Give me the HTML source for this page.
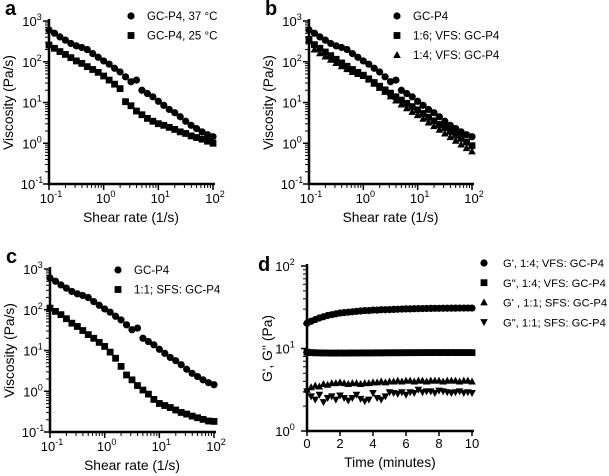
<!DOCTYPE html>
<html><head><meta charset="utf-8"><style>
body{margin:0;background:#fff;}
svg{display:block;font-family:"Liberation Sans",Arial,sans-serif;}
</style></head><body>
<svg id="fig" width="609" height="476" viewBox="0 0 609 476"></svg>
<script>
// Panel a data (log10 viscosity), x = 10^(-1 + i/10)
const aCircle37 = [2.78,2.70,2.61,2.53,2.45,2.39,2.35,2.30,2.20,2.11,2.02,1.94,1.84,1.75,1.63,1.51,1.55,1.30,1.22,1.14,1.03,0.93,0.83,0.75,0.65,0.54,0.44,0.36,0.28,0.21,0.16];
const aSquare25 = [2.41,2.33,2.25,2.18,2.10,2.02,1.96,1.88,1.81,1.74,1.65,1.55,1.45,1.34,1.02,0.92,0.79,0.70,0.61,0.54,0.48,0.44,0.39,0.34,0.28,0.24,0.18,0.14,0.10,0.05,0.0];
// Panel b
const bSquare16 = [2.55,2.42,2.33,2.24,2.15,2.06,1.97,1.89,1.81,1.74,1.67,1.58,1.49,1.40,1.31,1.23,1.14,1.06,0.98,0.90,0.82,0.73,0.64,0.55,0.46,0.38,0.29,0.20,0.12,0.03,-0.06];
const bTri14 = [2.50,2.30,2.21,2.13,2.05,1.97,1.89,1.82,1.75,1.70,1.65,1.56,1.46,1.36,1.26,1.15,1.05,0.95,0.86,0.77,0.69,0.60,0.51,0.42,0.33,0.24,0.15,0.06,-0.03,-0.12,-0.20];
// Panel c
const cSquare11 = [2.04,1.96,1.88,1.78,1.67,1.59,1.49,1.39,1.30,1.20,1.10,0.96,0.81,0.61,0.40,0.28,0.14,0.03,-0.07,-0.20,-0.30,-0.35,-0.40,-0.46,-0.52,-0.56,-0.61,-0.65,-0.69,-0.73,-0.74];
// Panel d (log10 Pa), t = i*0.25 min
const dGp14 = [1.305,1.33,1.35,1.37,1.385,1.40,1.41,1.42,1.43,1.435,1.44,1.445,1.45,1.455,1.46,1.46,1.465,1.465,1.47,1.47,1.472,1.474,1.476,1.478,1.48,1.48,1.482,1.483,1.484,1.485,1.486,1.487,1.487,1.488,1.488,1.489,1.489,1.49,1.49,1.49,1.49];
const dGpp14 = [0.955,0.95,0.948,0.947,0.946,0.945,0.944,0.944,0.945,0.944,0.945,0.946,0.945,0.946,0.947,0.946,0.947,0.948,0.947,0.948,0.948,0.949,0.948,0.949,0.949,0.95,0.949,0.95,0.95,0.95,0.95,0.951,0.95,0.951,0.95,0.951,0.95,0.95,0.951,0.95,0.95];
const dGp11 = [0.50,0.53,0.55,0.54,0.57,0.56,0.58,0.58,0.59,0.58,0.57,0.58,0.58,0.57,0.58,0.58,0.59,0.59,0.60,0.59,0.60,0.60,0.61,0.60,0.61,0.61,0.60,0.61,0.61,0.60,0.61,0.61,0.61,0.60,0.61,0.61,0.61,0.60,0.61,0.61,0.60];
const dGpp11 = [0.48,0.42,0.38,0.44,0.35,0.40,0.42,0.38,0.43,0.40,0.37,0.40,0.44,0.39,0.36,0.38,0.46,0.40,0.38,0.42,0.47,0.46,0.45,0.47,0.44,0.47,0.46,0.50,0.47,0.48,0.48,0.46,0.49,0.48,0.47,0.46,0.47,0.48,0.46,0.47,0.46];
const xLogTicks = ["-1","0","1","2"];
const dXTicks = [0,2,4,6,8,10];

const NS="http://www.w3.org/2000/svg";
const svg=document.getElementById('fig');
function mk(tag,attrs,parent){const e=document.createElementNS(NS,tag);for(const k in attrs)e.setAttribute(k,attrs[k]);(parent||svg).appendChild(e);return e;}
function txt(x,y,s,size,anchor,parent,weight){const t=mk('text',{x:x,y:y,'font-size':size,'text-anchor':anchor||'middle','fill':'#000'},parent);if(weight)t.setAttribute('font-weight',weight);t.textContent=s;return t;}
function pow10(x,y,exp,parent){const t=mk('text',{x:x,y:y,'font-size':13,'text-anchor':'middle'},parent);t.textContent='10';const s=mk('tspan',{'font-size':9,dy:-6},t);s.textContent=exp;return t;}
function marker(type,x,y,g){
  if(type==='circle')return mk('circle',{cx:x,cy:y,r:3.6,fill:'#000'},g);
  if(type==='square')return mk('rect',{x:x-3.4,y:y-3.4,width:6.8,height:6.8,fill:'#000'},g);
  if(type==='tri')return mk('polygon',{points:`${x},${y-4} ${x-3.8},${y+3} ${x+3.8},${y+3}`,fill:'#000'},g);
  return mk('polygon',{points:`${x},${y+4} ${x-3.8},${y-3} ${x+3.8},${y-3}`,fill:'#000'},g);
}
function logPanel(name,letter,x0,x1,yTop,yBot,series,legend,lx,ly){
  const g=mk('g',{});
  
  
  const xs=v=>x0+(v+1)/3*(x1-x0);
  const ys=v=>yBot-(v+1)/4*(yBot-yTop);
  const lt=txt(x0-44,yTop-6,letter,20,'start',g,'bold');
  
  
  const ax=mk('path',{d:`M${x0},${yTop-2} V${yBot} H${x1+2}`,stroke:'#000','stroke-width':2.5,fill:'none'},g);
  
  
  for(let d=-1;d<=3;d++){
    const y=ys(d);mk('line',{x1:x0-6,x2:x0,y1:y,y2:y,stroke:'#000','stroke-width':1.5},g);
    const lab=pow10(x0-17,y+5,String(d),g);
    
    
    if(d<3)for(let m=2;m<10;m++){const yy=ys(d+Math.log10(m));mk('line',{x1:x0-4,x2:x0,y1:yy,y2:yy,stroke:'#000','stroke-width':1},g);}
  }
  xLogTicks.forEach((e,i)=>{const v=+e;const x=xs(v);mk('line',{x1:x,x2:x,y1:yBot,y2:yBot+6,stroke:'#000','stroke-width':1.5},g);
    const lab=pow10(x+2,yBot+19,e,g);
    
    
    if(v<2)for(let m=2;m<10;m++){const xx=xs(v+Math.log10(m));mk('line',{x1:xx,x2:xx,y1:yBot,y2:yBot+4,stroke:'#000','stroke-width':1},g);}
  });
  const xt=txt((x0+x1)/2,yBot+38,'Shear rate (1/s)',13.8,'middle',g);
  
  
  const yt=txt(0,0,'Viscosity (Pa/s)',13.8,'middle',g);
  yt.setAttribute('transform',`translate(${x0-36},${(yTop+yBot)/2}) rotate(-90)`);
  
  
  series.forEach(s=>{
    const sg=mk('g',{},g);
    
    
    s.data.forEach((v,i)=>{const p=marker(s.type,xs(-1+i/10),ys(v),sg);
      
      });
  });
  legend.forEach((l,i)=>{
    const lg=mk('g',{},g);
    
    
    marker(l[0],lx,ly+i*19.5,lg);
    txt(lx+16,ly+i*19.5+4.2,l[1],11.5,'start',lg);
  });
}
const gc=aCircle37;
logPanel('panel-a','a',49,213,21,184,[{id:'gc-p4-37c',type:'circle',data:aCircle37},{id:'gc-p4-25c',type:'square',data:aSquare25}],[['circle','GC-P4, 37 °C'],['square','GC-P4, 25 °C']],131,16);
logPanel('panel-b','b',309,472,21,184,[{id:'gc-p4',type:'circle',data:gc},{id:'vfs-1-6',type:'square',data:bSquare16},{id:'vfs-1-4',type:'tri',data:bTri14}],[['circle','GC-P4'],['square','1:6; VFS: GC-P4'],['tri','1:4; VFS: GC-P4']],397,16);
logPanel('panel-c','c',50,214,269,432,[{id:'gc-p4',type:'circle',data:gc},{id:'sfs-1-1',type:'square',data:cSquare11}],[['circle','GC-P4'],['square','1:1; SFS: GC-P4']],118,270);

(function(){
  const g=mk('g',{});
  
  
  const x0=307,x1=472,yTop=266,yBot=431;
  const xs=t=>x0+t/10*(x1-x0);
  const ys=v=>yBot-v/2*(yBot-yTop);
  const lt=txt(258,271,'d',20,'start',g,'bold');
  
  
  const ax=mk('path',{d:`M${x0},${yTop-2} V${yBot} H${x1+2}`,stroke:'#000','stroke-width':2.5,fill:'none'},g);
  
  
  for(let d=0;d<=2;d++){const y=ys(d);mk('line',{x1:x0-6,x2:x0,y1:y,y2:y,stroke:'#000','stroke-width':1.5},g);
    const lab=pow10(x0-22,y+5,String(d),g);
    
    
    if(d<2)for(let m=2;m<10;m++){const yy=ys(d+Math.log10(m));mk('line',{x1:x0-4,x2:x0,y1:yy,y2:yy,stroke:'#000','stroke-width':1},g);}
  }
  dXTicks.forEach(t=>{const x=xs(t);mk('line',{x1:x,x2:x,y1:yBot,y2:yBot+5,stroke:'#000','stroke-width':1.5},g);
    const lab=txt(x,yBot+17,String(t),13,'middle',g);
    
    });
  const xt=txt(390,467,'Time (minutes)',13.8,'middle',g);
  
  
  const yt=txt(0,0,"G', G'' (Pa)",13.8,'middle',g);
  yt.setAttribute('transform',`translate(272,${(yTop+yBot)/2}) rotate(-90)`);
  
  
  const ser=[['gp-vfs','circle',dGp14],['gpp-vfs','square',dGpp14],['gp-sfs','tri',dGp11],['gpp-sfs','inv',dGpp11]];
  ser.forEach(s=>{const sg=mk('g',{},g);
    
    
    s[2].forEach((v,i)=>{const p=marker(s[1],xs(i*0.25),ys(v),sg);
      
      });});
  const leg=[['circle',"G',  1:4; VFS: GC-P4"],['square','G", 1:4; VFS: GC-P4'],['tri',"G' , 1:1; SFS: GC-P4"],['inv','G", 1:1; SFS: GC-P4']];
  leg.forEach((l,i)=>{const lg=mk('g',{},g);
    
    
    marker(l[0],484,263+i*19.7,lg);
    txt(503,263+i*19.7+4.2,l[1],11.2,'start',lg);});
})();
</script>
</body></html>
